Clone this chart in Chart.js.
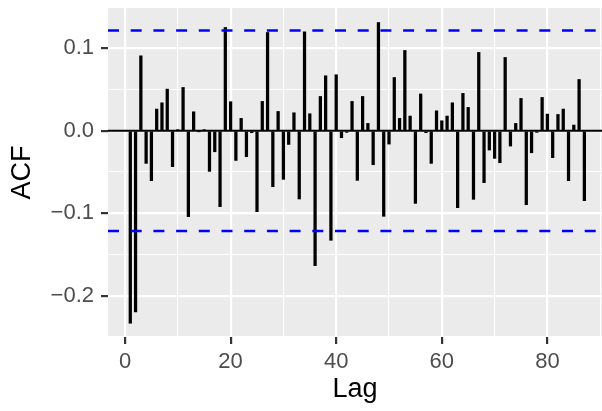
<!DOCTYPE html>
<html>
<head>
<meta charset="utf-8">
<script src="https://cdn.jsdelivr.net/npm/chart.js@4"></script>
<style>
  html, body { margin: 0; padding: 0; background: #ffffff; }
  #wrap { width: 602px; height: 411px; }
</style>
</head>
<body>
<div id="wrap"><canvas id="acfChart"></canvas></div>
<script>
var lags = [];
for (var k = 1; k <= 87; k++) { lags.push(k); }

var acfValues = [
  -0.2335, -0.2198, 0.0909, -0.0396, -0.0606, 0.0263, 0.0339, 0.0505, -0.0436, 0.0010,
  0.0525, -0.1042, 0.0230, -0.0010, 0.0010, -0.0493, -0.0255, -0.0921, 0.1253, 0.0352,
  -0.0360, 0.0150, -0.0315, -0.0024, -0.0982, 0.0356, 0.1192, -0.0679, 0.0234, -0.0590,
  -0.0166, 0.0218, -0.0828, 0.1200, 0.0206, -0.1636, 0.0416, 0.0667, -0.1329, 0.0679,
  -0.0085, -0.0020, 0.0356, -0.0602, 0.0416, 0.0089, -0.0412, 0.1313, -0.1038, -0.0162,
  0.0646, 0.0150, 0.0974, 0.0178, -0.0881, 0.0446, -0.0024, -0.0396, 0.0242, 0.0121,
  0.0178, 0.0339, -0.0933, 0.0453, 0.0283, -0.0832, 0.0950, -0.0630, -0.0234, -0.0335,
  -0.0388, 0.0889, -0.0186, 0.0089, 0.0392, -0.0897, -0.0267, -0.0020, 0.0404, 0.0202,
  -0.0327, 0.0198, 0.0263, -0.0606, 0.0069, 0.0622, -0.0848
];

var ciBound = 0.1215;
var xMajorTicks = [0, 20, 40, 60, 80];
var yMajorTicks = [-0.2, -0.1, 0.0, 0.1];

var xMin = -3.22, xMax = 90.34;
var yMin = -0.2502, yMax = 0.1489;

var barPoints = [];
for (var i = 0; i < lags.length; i++) {
  barPoints.push({ x: lags[i], y: acfValues[i] });
}

function isMajor(list, v) {
  for (var j = 0; j < list.length; j++) {
    if (Math.abs(list[j] - v) < 1e-6) return true;
  }
  return false;
}

function tickVal(c) {
  return (c && c.tick) ? c.tick.value : null;
}

// grey panel like ggplot
var panelBg = {
  id: 'panelBg',
  beforeDraw: function (chart) {
    var a = chart.chartArea;
    var ctx = chart.ctx;
    ctx.save();
    ctx.fillStyle = '#EBEBEB';
    ctx.fillRect(a.left, a.top, a.right - a.left, a.bottom - a.top);
    ctx.restore();
  }
};

new Chart(document.getElementById('acfChart'), {
  type: 'bar',
  data: {
    datasets: [
      {
        type: 'line',
        data: [{ x: xMin, y: 0 }, { x: xMax, y: 0 }],
        borderColor: '#000000',
        borderWidth: 2,
        pointRadius: 0,
        order: 3
      },
      {
        type: 'bar',
        data: barPoints,
        backgroundColor: '#000000',
        borderWidth: 0,
        barThickness: 2.6,
        order: 2
      },
      {
        type: 'line',
        data: [{ x: xMin, y: ciBound }, { x: xMax, y: ciBound }],
        borderColor: '#0000FF',
        borderWidth: 2.5,
        borderDash: [11, 11.7],
        pointRadius: 0,
        order: 1
      },
      {
        type: 'line',
        data: [{ x: xMin, y: -ciBound }, { x: xMax, y: -ciBound }],
        borderColor: '#0000FF',
        borderWidth: 2.5,
        borderDash: [11, 11.7],
        pointRadius: 0,
        order: 1
      }
    ]
  },
  options: {
    responsive: true,
    maintainAspectRatio: false,
    animation: false,
    layout: { padding: { top: 8, right: 0, left: 0, bottom: 0 } },
    plugins: {
      legend: { display: false },
      tooltip: { enabled: false }
    },
    scales: {
      x: {
        type: 'linear',
        min: xMin,
        max: xMax,
        offset: false,
        afterFit: function (s) {
          s.height = 74;
          s.paddingLeft = 0;
          s.paddingRight = 0;
        },
        afterBuildTicks: function (s) {
          var t = [];
          for (var v = 0; v <= 90; v += 10) t.push({ value: v });
          s.ticks = t;
        },
        border: { display: false },
        grid: {
          offset: false,
          color: '#FFFFFF',
          lineWidth: function (c) { return isMajor(xMajorTicks, tickVal(c)) ? 2.2 : 1.1; },
          tickColor: function (c) { return isMajor(xMajorTicks, tickVal(c)) ? '#333333' : 'rgba(0,0,0,0)'; },
          tickWidth: 2.2,
          tickLength: 7
        },
        ticks: {
          autoSkip: false,
          maxRotation: 0,
          padding: 5,
          color: '#4D4D4D',
          font: { family: 'Liberation Sans, Arial, sans-serif', size: 22 },
          callback: function (v) { return isMajor(xMajorTicks, v) ? String(v) : ''; }
        },
        title: {
          display: true,
          text: 'Lag',
          color: '#000000',
          font: { family: 'Liberation Sans, Arial, sans-serif', size: 27 },
          padding: { top: 0, bottom: 5 }
        }
      },
      y: {
        type: 'linear',
        min: yMin,
        max: yMax,
        afterFit: function (s) {
          s.width = 108;
          s.paddingTop = 0;
          s.paddingBottom = 0;
        },
        afterBuildTicks: function (s) {
          var t = [];
          for (var n = -5; n <= 2; n++) t.push({ value: n * 0.05 });
          s.ticks = t;
        },
        border: { display: false },
        grid: {
          color: '#FFFFFF',
          lineWidth: function (c) { return isMajor(yMajorTicks, tickVal(c)) ? 2.2 : 1.1; },
          tickColor: function (c) { return isMajor(yMajorTicks, tickVal(c)) ? '#333333' : 'rgba(0,0,0,0)'; },
          tickWidth: 2.2,
          tickLength: 7
        },
        ticks: {
          autoSkip: false,
          padding: 7,
          color: '#4D4D4D',
          font: { family: 'Liberation Sans, Arial, sans-serif', size: 22 },
          callback: function (v) {
            if (!isMajor(yMajorTicks, v)) return '';
            var s = v.toFixed(1);
            return s.replace('-', '\u2212');
          }
        },
        title: {
          display: true,
          text: 'ACF',
          color: '#000000',
          font: { family: 'Liberation Sans, Arial, sans-serif', size: 27 },
          padding: { top: 6, bottom: 0 }
        }
      }
    }
  },
  plugins: [panelBg]
});
</script>
</body>
</html>
